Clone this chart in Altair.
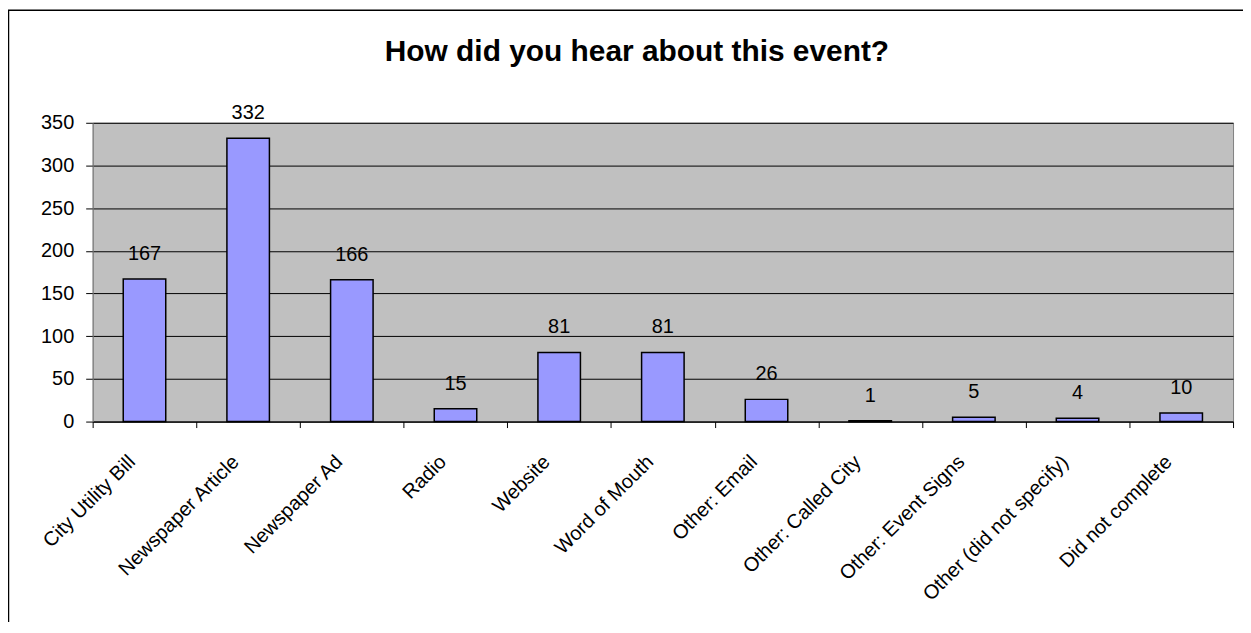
import altair as alt
import pandas as pd

categories = [
    "City Utility Bill", "Newspaper Article", "Newspaper Ad", "Radio", "Website",
    "Word of Mouth", "Other: Email", "Other: Called City", "Other: Event Signs",
    "Other (did not specify)", "Did not complete",
]
counts = [167, 332, 166, 15, 81, 81, 26, 1, 5, 4, 10]
y_ticks = [0, 50, 100, 150, 200, 250, 300, 350]
title_text = "How did you hear about this event?"

df = pd.DataFrame({"category": categories, "count": counts})

FONT = "Liberation Sans"
FS = 20
W, H = 1145, 300

x_enc = alt.X(
    "category:N",
    sort=categories,
    scale=alt.Scale(paddingInner=0, paddingOuter=0),
    axis=alt.Axis(
        title=None, labelAngle=-45, labelAlign="right", labelBaseline="top",
        tickBand="extent", tickSize=6, tickColor="black", domainColor="black",
        labelFontSize=FS, labelColor="black", labelFont=FONT, labelPadding=24,
        labelOffset=-20, labelLimit=400, grid=False, labelOverlap=False,
    ),
)
y_enc = alt.Y(
    "count:Q",
    scale=alt.Scale(domain=[0, 350], nice=False),
    axis=alt.Axis(
        title=None, values=y_ticks, tickSize=7, tickColor="black",
        domainColor="#808080", labelFontSize=FS, labelColor="black",
        labelFont=FONT, labelPadding=12, grid=True, gridColor="black",
        gridOpacity=1, gridWidth=1,
    ),
)

bars = alt.Chart(df).mark_bar(
    width=alt.RelativeBandSize(0.41), color="#9999FF", stroke="black", strokeWidth=1.5
).encode(x=x_enc, y=y_enc)

labels = alt.Chart(df).mark_text(
    dy=-19, baseline="alphabetic", fontSize=FS, font=FONT, color="black"
).encode(x=x_enc, y=y_enc, text="count:Q")

frame = alt.Chart(pd.DataFrame({"f": [0]})).mark_rect(
    fillOpacity=0, stroke="black", strokeWidth=1.5
).encode(x=alt.value(-84.5), x2=alt.value(W + 60), y=alt.value(-113), y2=alt.value(H + 240))

chart = alt.layer(frame, bars, labels).properties(
    width=W, height=H,
    title=alt.TitleParams(
        title_text, fontSize=30, fontWeight="bold", font=FONT, color="black",
        anchor="middle", dx=-26, offset=-58,
    ),
    padding={"left": 85, "top": 114, "right": 10, "bottom": 200},
    autosize=alt.AutoSizeParams(type="none"),
).configure(background="white").configure_view(fill="#C0C0C0", stroke="#808080", strokeWidth=1)

chart.save("out.html", embed_options={"renderer": "svg", "actions": False})
